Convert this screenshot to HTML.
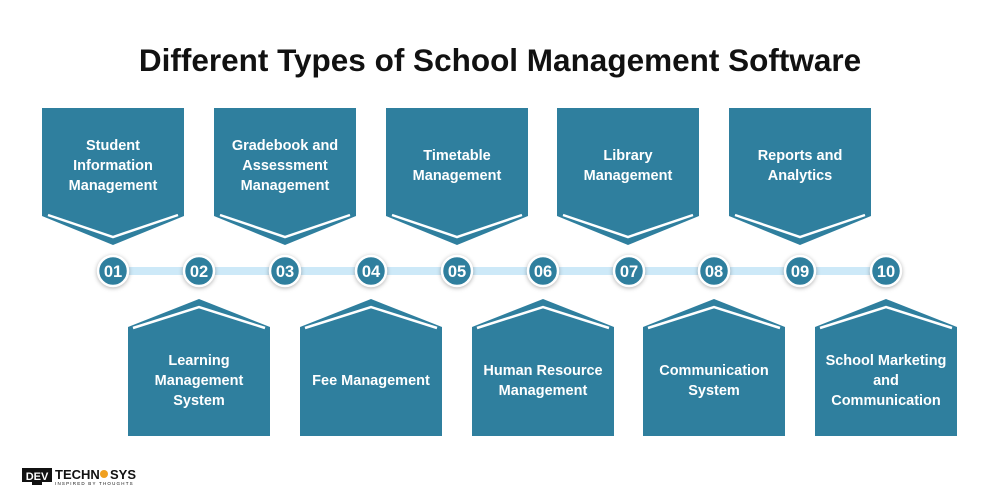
<!DOCTYPE html>
<html><head><meta charset="utf-8"><style>
body{margin:0;background:#fff;}
svg{display:block;}
text{font-family:"Liberation Sans",sans-serif;}
</style></head><body>
<svg width="1000" height="500" viewBox="0 0 1000 500">
<text x="500" y="71" text-anchor="middle" font-size="31.5" font-weight="bold" fill="#111">Different Types of School Management Software</text>
<rect x="113" y="267" width="773" height="8" fill="#cde9f8"/>
<g id="boxes" fill="#2f7f9e">
<g transform="translate(42,0)"><polygon points="0,108 142,108 142,216 71,245 0,216"/><polyline points="6,215 71,237 136,215" fill="none" stroke="#fff" stroke-width="2.5"/></g>
<g transform="translate(214,0)"><polygon points="0,108 142,108 142,216 71,245 0,216"/><polyline points="6,215 71,237 136,215" fill="none" stroke="#fff" stroke-width="2.5"/></g>
<g transform="translate(386,0)"><polygon points="0,108 142,108 142,216 71,245 0,216"/><polyline points="6,215 71,237 136,215" fill="none" stroke="#fff" stroke-width="2.5"/></g>
<g transform="translate(557,0)"><polygon points="0,108 142,108 142,216 71,245 0,216"/><polyline points="6,215 71,237 136,215" fill="none" stroke="#fff" stroke-width="2.5"/></g>
<g transform="translate(729,0)"><polygon points="0,108 142,108 142,216 71,245 0,216"/><polyline points="6,215 71,237 136,215" fill="none" stroke="#fff" stroke-width="2.5"/></g>
<g transform="translate(128,0)"><polygon points="0,327 71,299 142,327 142,436 0,436"/><polyline points="5,328 71,307 137,328" fill="none" stroke="#fff" stroke-width="2.5"/></g>
<g transform="translate(300,0)"><polygon points="0,327 71,299 142,327 142,436 0,436"/><polyline points="5,328 71,307 137,328" fill="none" stroke="#fff" stroke-width="2.5"/></g>
<g transform="translate(472,0)"><polygon points="0,327 71,299 142,327 142,436 0,436"/><polyline points="5,328 71,307 137,328" fill="none" stroke="#fff" stroke-width="2.5"/></g>
<g transform="translate(643,0)"><polygon points="0,327 71,299 142,327 142,436 0,436"/><polyline points="5,328 71,307 137,328" fill="none" stroke="#fff" stroke-width="2.5"/></g>
<g transform="translate(815,0)"><polygon points="0,327 71,299 142,327 142,436 0,436"/><polyline points="5,328 71,307 137,328" fill="none" stroke="#fff" stroke-width="2.5"/></g>
</g>
<g fill="#fff" font-size="14.5" font-weight="bold" text-anchor="middle">
<text x="113" y="150">Student</text><text x="113" y="170">Information</text><text x="113" y="190">Management</text>
<text x="285" y="150">Gradebook and</text><text x="285" y="170">Assessment</text><text x="285" y="190">Management</text>
<text x="457" y="160">Timetable</text><text x="457" y="180">Management</text>
<text x="628" y="160">Library</text><text x="628" y="180">Management</text>
<text x="800" y="160">Reports and</text><text x="800" y="180">Analytics</text>
<text x="199" y="365">Learning</text><text x="199" y="385">Management</text><text x="199" y="405">System</text>
<text x="371" y="385">Fee Management</text>
<text x="543" y="375">Human Resource</text><text x="543" y="395">Management</text>
<text x="714" y="375">Communication</text><text x="714" y="395">System</text>
<text x="886" y="365">School Marketing</text><text x="886" y="385">and</text><text x="886" y="405">Communication</text>
</g>
<g fill="#2f7f9e" stroke="#fff" stroke-width="2.5" style="filter:drop-shadow(0 1px 2px rgba(0,0,0,.3))">
<circle cx="113" cy="271" r="15"/><circle cx="199" cy="271" r="15"/><circle cx="285" cy="271" r="15"/><circle cx="371" cy="271" r="15"/><circle cx="457" cy="271" r="15"/><circle cx="543" cy="271" r="15"/><circle cx="629" cy="271" r="15"/><circle cx="714" cy="271" r="15"/><circle cx="800" cy="271" r="15"/><circle cx="886" cy="271" r="15"/>
</g>
<g fill="#fff" font-size="16.5" font-weight="bold" text-anchor="middle">
<text x="113" y="277">01</text><text x="199" y="277">02</text><text x="285" y="277">03</text><text x="371" y="277">04</text><text x="457" y="277">05</text><text x="543" y="277">06</text><text x="629" y="277">07</text><text x="714" y="277">08</text><text x="800" y="277">09</text><text x="886" y="277">10</text>
</g>
<rect x="22" y="468" width="30" height="14" fill="#111"/>
<rect x="32" y="482" width="10" height="3" fill="#111"/>
<text x="37" y="480" text-anchor="middle" font-size="11" font-weight="bold" fill="#fff">DEV</text>
<text x="55" y="479" font-size="13" font-weight="bold" fill="#111">TECHN</text>
<circle cx="104" cy="474" r="4" fill="#f0a020"/>
<text x="110" y="479" font-size="13" font-weight="bold" fill="#111">SYS</text>
<text x="55" y="485" font-size="4.5" fill="#111" letter-spacing="1.2">INSPIRED BY THOUGHTS</text>
</svg>
</body></html>
